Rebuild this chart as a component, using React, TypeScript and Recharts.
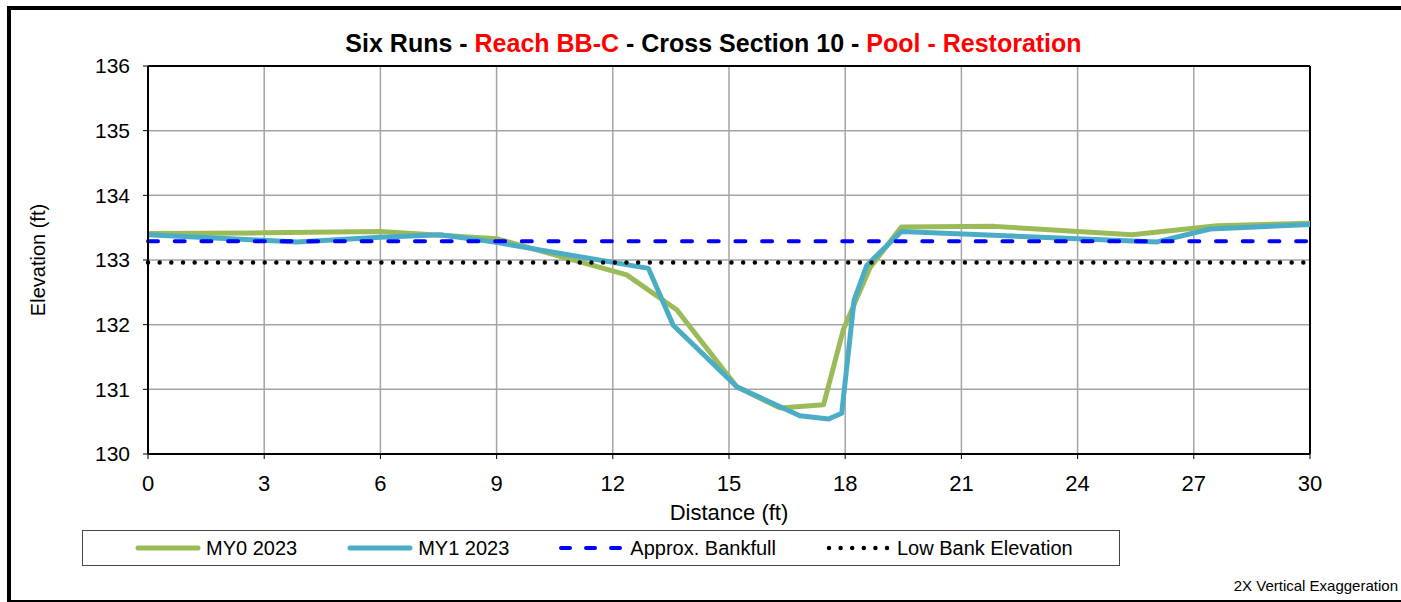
import { LineChart, Line, XAxis, YAxis, CartesianGrid, ReferenceLine } from 'recharts';

// cross section survey, distance (ft) vs elevation (ft)
const distanceTicks = [0, 3, 6, 9, 12, 15, 18, 21, 24, 27, 30];
const elevationTicks = [130, 131, 132, 133, 134, 135, 136];

const my0Distance = [0, 3, 6, 9, 12.36, 13.65, 15.2, 16.32, 17.44, 17.95, 18.64, 19.45, 21.85, 25.4, 27.6, 30];
const my0Elevation = [133.41, 133.42, 133.44, 133.33, 132.77, 132.23, 131.04, 130.71, 130.76, 131.92, 132.88, 133.51, 133.52, 133.39, 133.53, 133.57];

const my1Distance = [0, 3.85, 6, 7.55, 8.9, 12.92, 13.56, 15.2, 16.83, 17.57, 17.91, 18.23, 18.56, 19.45, 26.05, 27.42, 30];
const my1Elevation = [133.39, 133.28, 133.35, 133.39, 133.28, 132.87, 131.99, 131.04, 130.59, 130.54, 130.63, 132.38, 132.92, 133.44, 133.28, 133.48, 133.55];

const bankfullElevation = 133.29;
const lowBankElevation = 132.96;
const distanceRange = [0, 30];

const GREEN = '#9bbb59';
const TEAL = '#4bacc6';
const FONT = '"Liberation Sans", Arial, sans-serif';

const toPoints = (xs: number[], ys: number[]) => xs.map((x, i) => ({ x, y: ys[i] }));
const flat = (y: number) => distanceRange.map(x => ({ x, y }));

const my0 = toPoints(my0Distance, my0Elevation);
const my1 = toPoints(my1Distance, my1Elevation);
const bankfull = flat(bankfullElevation);
const lowBank = flat(lowBankElevation);

function Sample({ kind, color }: { kind: string; color: string }) {
  return (
    <svg width={66} height={12} style={{ display: 'block', flexShrink: 0 }}>
      {kind === 'solid' && <line x1={3} y1={6} x2={63} y2={6} stroke={color} strokeWidth={5} strokeLinecap="round" />}
      {kind === 'dash' && <line x1={2} y1={6} x2={64} y2={6} stroke={color} strokeWidth={4} strokeLinecap="round" strokeDasharray="9 16" />}
      {kind === 'dot' && <line x1={3} y1={6} x2={64} y2={6} stroke={color} strokeWidth={4.5} strokeLinecap="round" strokeDasharray="0 11.6" />}
    </svg>
  );
}

const legendItems = [
  { name: 'MY0 2023', kind: 'solid', color: GREEN },
  { name: 'MY1 2023', kind: 'solid', color: TEAL },
  { name: 'Approx. Bankfull', kind: 'dash', color: '#0000ff' },
  { name: 'Low Bank Elevation', kind: 'dot', color: '#000' },
];

export default function App() {
  return (
    <div style={{ position: 'relative', width: 1401, height: 602, overflow: 'hidden', background: '#fff', fontFamily: FONT }}>
      <style>{'body{margin:0}'}</style>
      <div style={{ position: 'absolute', left: 7, top: 6, width: 1700, height: 590, borderTop: '4px solid #000', borderLeft: '4px solid #000', borderBottom: '4px solid #000' }} />

      <div style={{ position: 'absolute', left: 0, top: 29, width: 1427, textAlign: 'center', fontSize: 25, fontWeight: 'bold', lineHeight: '28px', whiteSpace: 'nowrap' }}>
        Six Runs - <span style={{ color: '#ff0000' }}>Reach BB-C</span> - Cross Section 10 - <span style={{ color: '#ff0000' }}>Pool - Restoration</span>
      </div>

      <div style={{ position: 'absolute', left: 0, top: 0 }}>
        <LineChart width={1401} height={602} margin={{ top: 66, right: 91, bottom: 78, left: 0 }}>
          <CartesianGrid stroke="#a5a5a5" strokeWidth={1.5} />
          <XAxis
            type="number"
            dataKey="x"
            domain={[0, 30]}
            ticks={distanceTicks}
            interval={0}
            height={70}
            tick={{ fontSize: 22, fill: '#000', fontFamily: FONT }}
            tickSize={5}
            tickMargin={16}
            tickLine={{ stroke: '#000' }}
            axisLine={{ stroke: '#000', strokeWidth: 2 }}
            label={{ value: 'Distance (ft)', position: 'insideBottom', offset: 4, fontSize: 22, fill: '#000', fontFamily: FONT }}
          />
          <YAxis
            type="number"
            dataKey="y"
            domain={[130, 136]}
            ticks={elevationTicks}
            interval={0}
            width={148}
            tick={{ fontSize: 21, fill: '#000', fontFamily: FONT }}
            tickSize={5}
            tickMargin={13}
            tickLine={{ stroke: '#000' }}
            axisLine={{ stroke: '#000', strokeWidth: 2 }}
            label={{
              content: ({ viewBox }: any) => {
                const cx = viewBox.x + 38;
                const cy = viewBox.y + viewBox.height / 2;
                return (
                  <text x={cx} y={cy} transform={`rotate(-90 ${cx} ${cy})`} textAnchor="middle" dominantBaseline="central" fontSize={20} fontFamily={FONT} fill="#000">
                    Elevation (ft)
                  </text>
                );
              },
            }}
          />
          <ReferenceLine y={136} stroke="#000" strokeWidth={2} />
          <ReferenceLine x={30} stroke="#000" strokeWidth={2} />
          <Line data={my0} dataKey="y" stroke={GREEN} strokeWidth={5} strokeLinejoin="round" dot={false} activeDot={false} isAnimationActive={false} />
          <Line data={my1} dataKey="y" stroke={TEAL} strokeWidth={5} strokeLinejoin="round" dot={false} activeDot={false} isAnimationActive={false} />
          <Line data={bankfull} dataKey="y" stroke="#0000ff" strokeWidth={4} strokeLinecap="round" strokeDasharray="10 16.7" dot={false} activeDot={false} isAnimationActive={false} />
          <Line data={lowBank} dataKey="y" stroke="#000" strokeWidth={4.5} strokeLinecap="round" strokeDasharray="0 11.67" dot={false} activeDot={false} isAnimationActive={false} />
        </LineChart>
      </div>

      <div style={{ position: 'absolute', left: 82, top: 530, width: 1038, height: 36, border: '1px solid #444', display: 'flex', alignItems: 'center', paddingLeft: 52, boxSizing: 'border-box', whiteSpace: 'nowrap' }}>
        {legendItems.map(item => (
          <div key={item.name} style={{ display: 'flex', alignItems: 'center', marginRight: 50, flexShrink: 0 }}>
            <Sample kind={item.kind} color={item.color} />
            <span style={{ fontSize: 20, marginLeft: 5 }}>{item.name}</span>
          </div>
        ))}
      </div>

      <div style={{ position: 'absolute', right: 3, top: 577, fontSize: 15 }}>2X Vertical Exaggeration</div>
    </div>
  );
}
